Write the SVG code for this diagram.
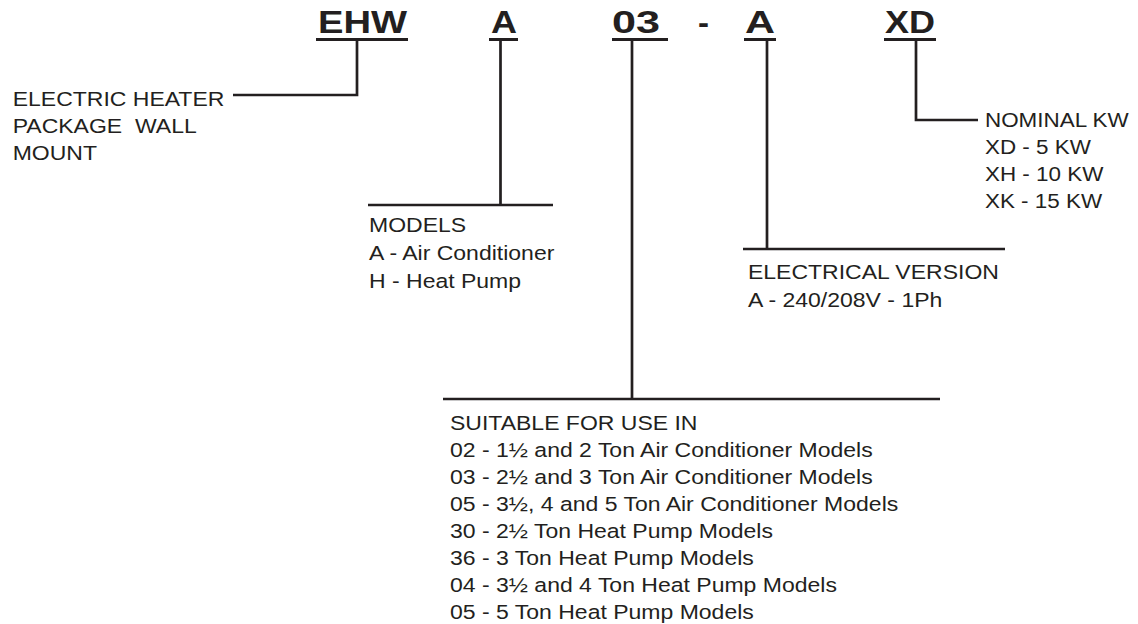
<svg xmlns="http://www.w3.org/2000/svg" width="1138" height="624" viewBox="0 0 1138 624">
<style>
.t{font-family:"Liberation Sans",Arial,sans-serif;font-size:19.5px;fill:#231f20;white-space:pre}
.h{font-family:"Liberation Sans",Arial,sans-serif;font-size:32px;font-weight:bold;fill:#231f20}
.u{stroke:#231f20;stroke-width:3;fill:none}
.c{stroke:#231f20;stroke-width:2.7;fill:none}
</style>
<rect width="1138" height="624" fill="#fff"/>
<g id="code">
<text class="h" x="318" y="33" textLength="89" lengthAdjust="spacingAndGlyphs">EHW</text>
<text class="h" x="491" y="33" textLength="26" lengthAdjust="spacingAndGlyphs">A</text>
<text class="h" x="612" y="33" textLength="48" lengthAdjust="spacingAndGlyphs">03</text>
<text class="h" x="698" y="33" textLength="11" lengthAdjust="spacingAndGlyphs">-</text>
<text class="h" x="745" y="33" textLength="30" lengthAdjust="spacingAndGlyphs">A</text>
<text class="h" x="885" y="33" textLength="50" lengthAdjust="spacingAndGlyphs">XD</text>
<path class="u" d="M316,39.5H408M489,39.5H518M612,39.5H668M744,39.5H776M884,39.5H936"/>
</g>
<g id="connectors">
<path class="c" d="M357,41V95H233"/>
<path class="c" d="M500.5,41V205M368,205H553"/>
<path class="c" d="M632,41V399M443,399H940"/>
<path class="c" d="M767,41V249M743,249H1005"/>
<path class="c" d="M916,41V120H978"/>
</g>
<g id="node-type" transform="translate(12.7,0) scale(1.18,1)">
<text class="t" x="0" y="106">ELECTRIC HEATER</text>
<text class="t" x="0" y="133.5">PACKAGE  WALL</text>
<text class="t" x="0" y="160.5">MOUNT</text>
</g>
<g id="node-models" transform="translate(369,0) scale(1.18,1)">
<text class="t" x="0" y="232">MODELS</text>
<text class="t" x="0" y="260">A - Air Conditioner</text>
<text class="t" x="0" y="288">H - Heat Pump</text>
</g>
<g id="node-electrical" transform="translate(748,0) scale(1.18,1)">
<text class="t" x="0" y="279">ELECTRICAL VERSION</text>
<text class="t" x="0" y="307">A - 240/208V - 1Ph</text>
</g>
<g id="node-kw" transform="translate(985,0) scale(1.15,1)">
<text class="t" x="0" y="127">NOMINAL KW</text>
<text class="t" x="0" y="154">XD - 5 KW</text>
<text class="t" x="0" y="181">XH - 10 KW</text>
<text class="t" x="0" y="208">XK - 15 KW</text>
</g>
<g id="node-suitable" transform="translate(450,0) scale(1.18,1)">
<text class="t" x="0" y="430">SUITABLE FOR USE IN</text>
<text class="t" x="0" y="457">02 - 1½ and 2 Ton Air Conditioner Models</text>
<text class="t" x="0" y="484">03 - 2½ and 3 Ton Air Conditioner Models</text>
<text class="t" x="0" y="511">05 - 3½, 4 and 5 Ton Air Conditioner Models</text>
<text class="t" x="0" y="538">30 - 2½ Ton Heat Pump Models</text>
<text class="t" x="0" y="565">36 - 3 Ton Heat Pump Models</text>
<text class="t" x="0" y="592">04 - 3½ and 4 Ton Heat Pump Models</text>
<text class="t" x="0" y="619">05 - 5 Ton Heat Pump Models</text>
</g>
</svg>
